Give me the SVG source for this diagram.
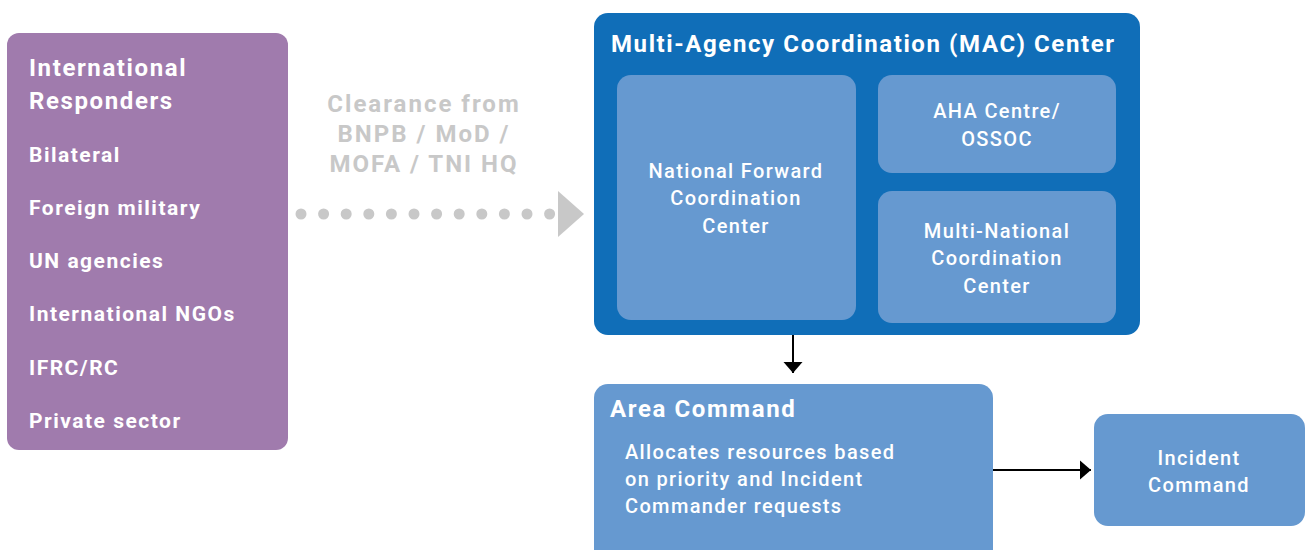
<svg xmlns="http://www.w3.org/2000/svg" width="1309" height="550" viewBox="0 0 1309 550">
<defs>
<style>
text{font-family:Roboto,"Liberation Sans",sans-serif;fill:#fff;}
.h{font-size:24px;font-weight:bold;letter-spacing:1.6px;}
.li{font-size:21px;font-weight:bold;letter-spacing:1.5px;}
.t{font-size:20px;font-weight:500;letter-spacing:1.35px;}
.c{text-anchor:middle;}
.cl{font-size:24px;font-weight:bold;letter-spacing:2px;fill:#c8c8c8;text-anchor:middle;}
.inner{fill:#6699d0;}
</style>
<marker id="ah" markerWidth="12" markerHeight="20" refX="11" refY="10" orient="auto" markerUnits="userSpaceOnUse">
<path d="M0,0.5 L11,10 L0,19.5 Z" fill="#000"/>
</marker>
</defs>
<rect width="1309" height="550" fill="#fff"/>
<g id="international-responders">
<rect x="7" y="33" width="281" height="417" rx="12" fill="#a07bad"/>
<text class="h" x="29" y="76">International</text>
<text class="h" x="29" y="109">Responders</text>
<text class="li" x="29" y="162">Bilateral</text>
<text class="li" x="29" y="215">Foreign military</text>
<text class="li" x="29" y="268">UN agencies</text>
<text class="li" x="29" y="321">International NGOs</text>
<text class="li" x="29" y="375">IFRC/RC</text>
<text class="li" x="29" y="428">Private sector</text>
</g>
<g id="mac-center">
<rect x="594" y="13" width="546" height="322" rx="14" fill="#106eb8"/>
<text class="h" x="611" y="52">Multi-Agency Coordination (MAC) Center</text>
</g>
<g id="nfcc">
<rect class="inner" x="617" y="75" width="239" height="245" rx="14"/>
<text class="t c" x="736" y="178">National Forward</text>
<text class="t c" x="736" y="205">Coordination</text>
<text class="t c" x="736" y="233">Center</text>
</g>
<g id="aha">
<rect class="inner" x="878" y="75" width="238" height="98" rx="14"/>
<text class="t c" x="997" y="118">AHA Centre/</text>
<text class="t c" x="997" y="146">OSSOC</text>
</g>
<g id="mncc">
<rect class="inner" x="878" y="191" width="238" height="132" rx="14"/>
<text class="t c" x="997" y="238">Multi-National</text>
<text class="t c" x="997" y="265">Coordination</text>
<text class="t c" x="997" y="293">Center</text>
</g>
<g id="area-command">
<rect class="inner" x="594" y="384" width="399" height="180" rx="14"/>
<text class="h" x="610" y="417">Area Command</text>
<text class="t" x="625" y="459">Allocates resources based</text>
<text class="t" x="625" y="486">on priority and Incident</text>
<text class="t" x="625" y="513">Commander requests</text>
</g>
<g id="incident-command">
<rect class="inner" x="1094" y="414" width="211" height="112" rx="14"/>
<text class="t c" x="1199" y="465">Incident</text>
<text class="t c" x="1199" y="492">Command</text>
</g>
<g id="connectors">
<g id="clearance" fill="#c8c8c8">
<circle cx="301" cy="214" r="5.5"/><circle cx="323.6" cy="214" r="5.5"/><circle cx="346.2" cy="214" r="5.5"/><circle cx="368.8" cy="214" r="5.5"/><circle cx="391.4" cy="214" r="5.5"/><circle cx="414" cy="214" r="5.5"/><circle cx="436.6" cy="214" r="5.5"/><circle cx="459.2" cy="214" r="5.5"/><circle cx="481.8" cy="214" r="5.5"/><circle cx="504.4" cy="214" r="5.5"/><circle cx="527" cy="214" r="5.5"/><circle cx="549.6" cy="214" r="5.5"/>
<path d="M558,191 L584,214 L558,237 Z"/>
<text class="cl" x="424" y="112">Clearance from</text>
<text class="cl" x="424" y="142">BNPB / MoD /</text>
<text class="cl" x="424" y="172">MOFA / TNI HQ</text>
</g>
<line x1="793" y1="335" x2="793" y2="373" stroke="#000" stroke-width="2" marker-end="url(#ah)"/>
<line x1="993" y1="470" x2="1091" y2="470" stroke="#000" stroke-width="2" marker-end="url(#ah)"/>
</g>
</svg>
